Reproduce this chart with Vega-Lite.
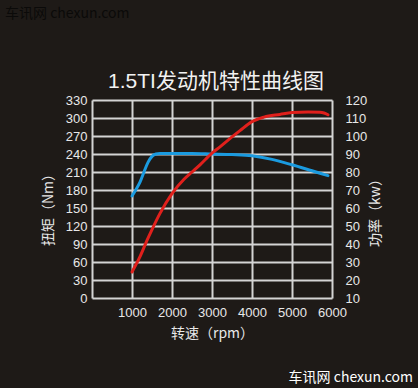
{
  "$schema": "https://vega.github.io/schema/vega-lite/v6.json",
  "width": 240,
  "height": 198,
  "autosize": {"type": "none"},
  "padding": {"left": 92, "top": 100, "right": 86, "bottom": 90},
  "background": "#1e1a17",
  "title": {
    "text": "1.5TI发动机特性曲线图",
    "font": "Liberation Sans, 'Noto Sans CJK SC'",
    "fontSize": 21,
    "fontWeight": "normal",
    "color": "#f2f2f2",
    "anchor": "middle",
    "baseline": "alphabetic",
    "offset": 10,
    "dy": 112,
    "dx": 4
  },
  "datasets": {
    "torque": [
      {"rpm": 1000, "torque": 170},
      {"rpm": 1100, "torque": 181},
      {"rpm": 1200, "torque": 193},
      {"rpm": 1300, "torque": 210},
      {"rpm": 1400, "torque": 226},
      {"rpm": 1500, "torque": 236},
      {"rpm": 1600, "torque": 240},
      {"rpm": 1700, "torque": 241},
      {"rpm": 2000, "torque": 241},
      {"rpm": 2500, "torque": 241},
      {"rpm": 3000, "torque": 240},
      {"rpm": 3500, "torque": 239},
      {"rpm": 4000, "torque": 237},
      {"rpm": 4500, "torque": 231},
      {"rpm": 5000, "torque": 222},
      {"rpm": 5500, "torque": 212},
      {"rpm": 5900, "torque": 204}
    ],
    "power": [
      {"rpm": 1000, "power": 24.5},
      {"rpm": 1200, "power": 33},
      {"rpm": 1375, "power": 42},
      {"rpm": 1500, "power": 48},
      {"rpm": 1700, "power": 57},
      {"rpm": 2000, "power": 68},
      {"rpm": 2300, "power": 76},
      {"rpm": 2500, "power": 80},
      {"rpm": 2700, "power": 84},
      {"rpm": 3000, "power": 90.5},
      {"rpm": 3200, "power": 94},
      {"rpm": 3500, "power": 99.5},
      {"rpm": 3700, "power": 103},
      {"rpm": 4000, "power": 108},
      {"rpm": 4300, "power": 110.5},
      {"rpm": 4700, "power": 112},
      {"rpm": 5000, "power": 113},
      {"rpm": 5400, "power": 113.3},
      {"rpm": 5700, "power": 113.2},
      {"rpm": 5800, "power": 112.8},
      {"rpm": 5900, "power": 111.8}
    ],
    "watermarks": [
      {"label": "车讯网 chexun.com", "where": "bottom"},
      {"label": "车讯网 chexun.com", "where": "top"}
    ]
  },
  "layer": [
    {
      "data": {"name": "torque"},
      "mark": {"type": "line", "color": "#1b9be0", "strokeWidth": 3, "interpolate": "monotone", "strokeCap": "round"},
      "encoding": {
        "x": {
          "field": "rpm", "type": "quantitative",
          "scale": {"domain": [0, 6000], "nice": false},
          "axis": {
            "orient": "bottom",
            "values": [0, 1000, 2000, 3000, 4000, 5000, 6000],
            "labelExpr": "datum.value == 0 ? '' : datum.label",
            "format": "d",
            "labelPadding": 8,
            "title": "转速（rpm）",
            "titlePadding": 7,
            "grid": true
          }
        },
        "y": {
          "field": "torque", "type": "quantitative",
          "scale": {"domain": [0, 330], "nice": false, "zero": false},
          "axis": {
            "orient": "left",
            "values": [0, 30, 60, 90, 120, 150, 180, 210, 240, 270, 300, 330],
            "labelPadding": 5,
            "title": "扭矩（Nm）",
            "titleAngle": 270,
            "titleBaseline": "bottom",
            "titlePadding": 10,
            "titleY": 106,
            "grid": true
          }
        }
      }
    },
    {
      "data": {"name": "power"},
      "mark": {"type": "line", "color": "#e0201c", "strokeWidth": 3, "interpolate": "monotone", "strokeCap": "round"},
      "encoding": {
        "x": {"field": "rpm", "type": "quantitative", "scale": {"domain": [0, 6000], "nice": false}, "axis": null},
        "y": {
          "field": "power", "type": "quantitative",
          "scale": {"domain": [10, 120], "nice": false, "zero": false},
          "axis": {
            "orient": "right",
            "values": [10, 20, 30, 40, 50, 60, 70, 80, 90, 100, 110, 120],
            "labelPadding": 13,
            "title": "功率（kw）",
            "titleAngle": 270,
            "titleBaseline": "top",
            "titlePadding": 2,
            "titleY": 109,
            "grid": false
          }
        }
      }
    },
    {
      "data": {"name": "watermarks"},
      "transform": [{"filter": "datum.where == 'bottom'"}],
      "mark": {"type": "text", "align": "right", "baseline": "alphabetic", "dx": 81, "dy": 84, "font": "'Noto Sans CJK SC'", "fontSize": 14, "fill": "#ffffff"},
      "encoding": {
        "x": {"datum": 6000, "type": "quantitative", "scale": {"domain": [0, 6000], "nice": false}, "axis": null},
        "y": {"datum": 0, "type": "quantitative", "scale": {"domain": [0, 330], "nice": false}, "axis": null},
        "text": {"field": "label"}
      }
    },
    {
      "data": {"name": "watermarks"},
      "transform": [{"filter": "datum.where == 'top'"}],
      "mark": {"type": "text", "align": "left", "baseline": "alphabetic", "dx": -87, "dy": -82, "font": "'Noto Sans CJK SC'", "fontSize": 14, "fill": "#0b0a09"},
      "encoding": {
        "x": {"datum": 0, "type": "quantitative", "scale": {"domain": [0, 6000], "nice": false}, "axis": null},
        "y": {"datum": 330, "type": "quantitative", "scale": {"domain": [0, 330], "nice": false}, "axis": null},
        "text": {"field": "label"}
      }
    }
  ],
  "resolve": {"scale": {"x": "independent", "y": "independent"}},
  "config": {
    "view": {"stroke": null},
    "axis": {
      "labelColor": "#e8e8e8",
      "labelFont": "Liberation Sans",
      "labelFontSize": 13,
      "labelFlush": false,
      "labelOverlap": false,
      "titleColor": "#e8e8e8",
      "titleFont": "'Noto Sans CJK SC'",
      "titleFontSize": 14,
      "titleFontWeight": "normal",
      "gridColor": "#d4d4d4",
      "gridWidth": 2,
      "gridOpacity": 1,
      "domain": false,
      "ticks": false,
      "tickSize": 0
    }
  }
}
